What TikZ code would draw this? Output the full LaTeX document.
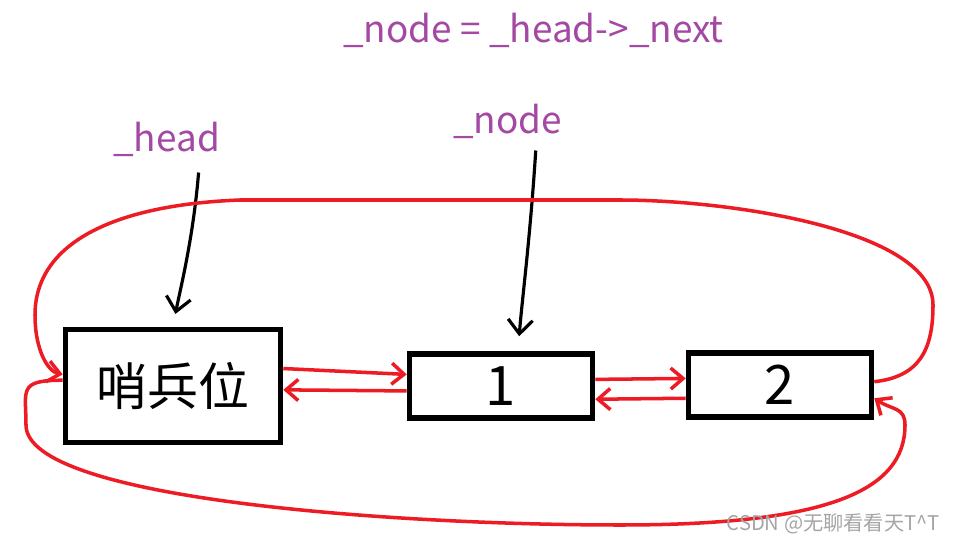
\documentclass[tikz,border=0pt]{standalone}
\usepackage{fontspec}
\newfontfamily\cjk{Noto Sans CJK SC}
\usetikzlibrary{arrows.meta}
\definecolor{pen}{RGB}{237,28,36}
\definecolor{ink}{RGB}{163,73,164}
\definecolor{mark}{RGB}{165,165,165}

\begin{document}
\begin{tikzpicture}[
    x=0.02cm, y=-0.02cm,
    % --- box styles ---
    box/.style={draw, line width=3.2pt, minimum width=3.66cm, minimum height=1.28cm,
                inner sep=0pt, font=\cjk\fontsize{31}{31}\selectfont},
    bigbox/.style={box, minimum width=4.3cm, minimum height=2.26cm,
                   font=\cjk\fontsize{29}{29}\selectfont},
    % --- label style ---
    lbl/.style={text=ink, inner sep=0pt, anchor=base west, font=\cjk\fontsize{21}{21}\selectfont},
    % --- arrow styles ---
    link/.style={draw=pen, line width=2pt, -{Straight Barb[length=7pt,width=12pt]}},
    ptr/.style={draw=black, line width=1.8pt, -{Straight Barb[length=8pt,width=14pt]}},
]

%% page frame (pixels of the sketch, y downwards)
\useasboundingbox[fill=white] (0,0) rectangle (956,543);

%% ---- LIST NODES ----
\node[bigbox] (sent) at (173,386) {哨兵位};
\node[box]    (n1)   at (501,386) {1};
\node[box]    (n2)   at (780,385) {2};

%% ---- LABELS ----
\node[lbl] (eq) at (343,43)  {\_node = \_head->\_next};
\node[lbl] (hd) at (113,152) {\_head};
\node[lbl] (nd) at (453,134) {\_node};

%% ---- POINTERS ----
\draw[ptr, shorten >=0.26cm] ([xshift=0.64cm,yshift=-0.3cm]hd.south)
    .. controls (193,240) and (180,290) .. (sent.north);
\draw[ptr, shorten >=0.3cm] ([xshift=0.56cm,yshift=-0.22cm]nd.south)
    .. controls (530,240) and (522,300) .. ([xshift=0.34cm]n1.north);

%% ---- NEXT / PREV LINKS ----
\draw[link] (sent.9)  -- (n1.173);
\draw[link] (n1.183)  -- (sent.-2);
\draw[link] (n1.4)    -- (n2.176);
\draw[link] (n2.188)  -- (n1.-8);

%% tail -> head (over the top)
\draw[link] (n2.2) .. controls +(45,-5) and +(0,45) .. (933,305)
    .. controls +(0,-75) and +(110,0) .. (620,200)
    -- (240,200)
    .. controls +(-130,5) and +(0,-70) .. (35,315)
    .. controls +(0,35) and +(-15,-3) .. (sent.174);

%% head -> tail (under the bottom)
\draw[link] (sent.177) .. controls +(-45,0) and +(0,-35) .. (26,425)
    .. controls +(0,75) and +(-220,0) .. (620,525)
    .. controls +(210,0) and +(0,65) .. (905,425)
    .. controls +(0,-18) and +(18,12) .. (n2.-8);

%% ---- WATERMARK ----
\node[text=mark, anchor=base east, inner sep=0pt, font=\cjk\fontsize{11.5}{11.5}\selectfont]
    (wm) at (940,530) {CSDN @无聊看看天T\textasciicircum T};

\end{tikzpicture}
\end{document}
